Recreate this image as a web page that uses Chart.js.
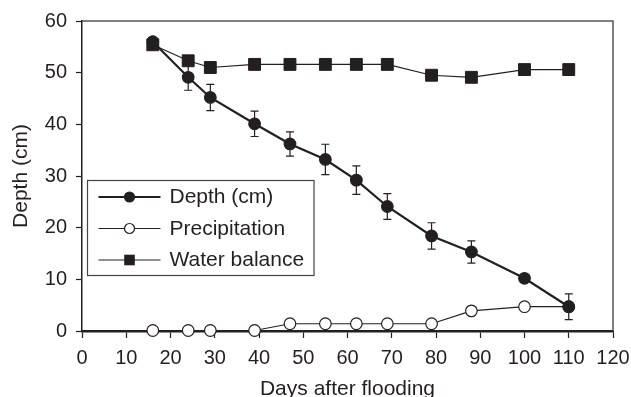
<!DOCTYPE html>
<html><head><meta charset="utf-8">
<script src="https://cdn.jsdelivr.net/npm/chart.js@4/dist/chart.umd.min.js"></script>
<style>html,body{margin:0;padding:0;background:#fff;}#wrap{width:631px;height:397px;}</style>
</head><body><div id="wrap"><canvas id="c" width="631" height="397"></canvas></div>
<script>
// ---- data ----
const days = [16, 24, 29, 39, 47, 55, 62, 69, 79, 88, 100, 110];
const depth = [56.0, 49.1, 45.2, 40.1, 36.2, 33.2, 29.2, 24.1, 18.4, 15.3, 10.2, 4.7];
const depthErr = [0, 2.5, 2.55, 2.45, 2.35, 2.95, 2.75, 2.5, 2.55, 2.15, 0, 2.5];
const precipitation = [0.1, 0.1, 0.1, 0.1, 1.4, 1.4, 1.4, 1.4, 1.4, 3.9, 4.7, 4.7];
const waterBalance = [55.4, 52.3, 51.0, 51.6, 51.6, 51.6, 51.6, 51.6, 49.5, 49.1, 50.6, 50.6];
const seriesNames = ['Depth (cm)', 'Precipitation', 'Water balance'];
const xTickValues = [0, 10, 20, 30, 40, 50, 60, 70, 80, 90, 100, 110, 120];
const yTickValues = [0, 10, 20, 30, 40, 50, 60];
const xTitle = 'Days after flooding';
const yTitle = 'Depth (cm)';

const INK = '#231f20';
const FONT = '"Liberation Sans", Arial, Helvetica, sans-serif';
Chart.defaults.font.family = FONT;
Chart.defaults.color = INK;

const pts = arr => days.map((d, i) => ({x: d, y: arr[i]}));

const errorBars = {
  id: 'errorBars',
  beforeDatasetsDraw(chart) {
    const {ctx, scales: {x, y}} = chart;
    ctx.save();
    ctx.strokeStyle = INK;
    ctx.lineWidth = 1.2;
    days.forEach((d, i) => {
      const e = depthErr[i];
      if (!e) return;
      const px = x.getPixelForValue(d);
      const top = y.getPixelForValue(depth[i] + e);
      const bot = y.getPixelForValue(depth[i] - e);
      ctx.beginPath();
      ctx.moveTo(px, top); ctx.lineTo(px, bot);
      ctx.moveTo(px - 4, top); ctx.lineTo(px + 4, top);
      ctx.moveTo(px - 4, bot); ctx.lineTo(px + 4, bot);
      ctx.stroke();
    });
    ctx.restore();
  }
};

const frame = {
  id: 'frame',
  beforeDatasetsDraw(chart) {
    const {ctx, chartArea: a} = chart;
    ctx.save();
    ctx.strokeStyle = '#555';
    ctx.lineWidth = 1.5;
    ctx.beginPath();
    ctx.moveTo(a.left, a.top); ctx.lineTo(a.right, a.top); ctx.lineTo(a.right, a.bottom);
    ctx.stroke();
    ctx.restore();
  }
};

const boxLegend = {
  id: 'boxLegend',
  afterDraw(chart) {
    const {ctx, chartArea: a} = chart;
    const L = a.left + 5.5, T = a.top + 159.5, W = 226.5, H = 95;
    ctx.save();
    ctx.fillStyle = '#fff';
    ctx.fillRect(L, T, W, H);
    ctx.strokeStyle = '#444';
    ctx.lineWidth = 1.2;
    ctx.strokeRect(L, T, W, H);
    const rows = [T + 16.5, T + 48, T + 79.5];
    chart.data.datasets.forEach((ds, i) => {
      const yy = rows[i];
      ctx.strokeStyle = INK;
      ctx.lineWidth = ds.borderWidth;
      ctx.beginPath();
      ctx.moveTo(L + 11, yy); ctx.lineTo(L + 73, yy);
      ctx.stroke();
      ctx.lineWidth = 1.2;
      ctx.fillStyle = ds.pointBackgroundColor;
      ctx.strokeStyle = INK;
      if (ds.pointStyle === 'rect') {
        ctx.fillRect(L + 42 - 5.3, yy - 5.3, 10.6, 10.6);
      } else {
        ctx.beginPath();
        ctx.arc(L + 42, yy, 5, 0, Math.PI * 2);
        ctx.fill(); ctx.stroke();
      }
      ctx.fillStyle = INK;
      ctx.font = '21px ' + FONT;
      ctx.textBaseline = 'middle';
      ctx.fillText(ds.label, L + 82, yy + 0.5);
    });
    ctx.restore();
  }
};

new Chart(document.getElementById('c'), {
  type: 'line',
  data: {
    datasets: [
      {label: seriesNames[0], data: pts(depth), borderColor: INK, borderWidth: 2.2,
       pointStyle: 'circle', pointRadius: 5.8, pointBorderWidth: 1.2,
       pointBackgroundColor: INK, pointBorderColor: INK, clip: false},
      {label: seriesNames[1], data: pts(precipitation), borderColor: INK, borderWidth: 1.2,
       pointStyle: 'circle', pointRadius: 5.8, pointBorderWidth: 1.2,
       pointBackgroundColor: '#ffffff', pointBorderColor: INK, clip: false},
      {label: seriesNames[2], data: pts(waterBalance), borderColor: INK, borderWidth: 1.2,
       pointStyle: 'rect', pointRadius: 8.4, pointBorderWidth: 1,
       pointBackgroundColor: INK, pointBorderColor: INK, clip: false}
    ]
  },
  options: {
    responsive: false,
    animation: false,
    devicePixelRatio: 1,
    layout: {padding: {top: 21, right: 18, left: 0, bottom: 0}},
    plugins: {legend: {display: false}, tooltip: {enabled: false}},
    elements: {line: {tension: 0}},
    scales: {
      x: {
        type: 'linear', min: 0, max: 120,
        afterBuildTicks: s => { s.ticks = xTickValues.map(v => ({value: v})); },
        afterFit: s => { s.height = 66; s.paddingRight = 0; s.paddingLeft = 0; },
        grid: {drawOnChartArea: false, drawTicks: true, tickLength: 7, tickColor: INK, tickWidth: 1.2},
        border: {display: true, color: INK, width: 2.5},
        ticks: {font: {size: 20}, color: INK, padding: 8, maxRotation: 0, autoSkip: false},
        title: {display: true, text: xTitle, font: {size: 21}, color: INK, padding: {top: 0, bottom: -4.5}}
      },
      y: {
        min: 0, max: 60,
        afterBuildTicks: s => { s.ticks = yTickValues.map(v => ({value: v})); },
        afterFit: s => { s.width = 82; },
        grid: {drawOnChartArea: false, drawTicks: true, tickLength: 6, tickColor: INK, tickWidth: 1.2},
        border: {display: true, color: INK, width: 1.5},
        ticks: {font: {size: 20}, color: INK, padding: 9},
        title: {display: true, text: yTitle, font: {size: 21}, color: INK, padding: {top: 8.5, bottom: 0}}
      }
    }
  },
  plugins: [frame, errorBars, boxLegend]
});
</script></body></html>
